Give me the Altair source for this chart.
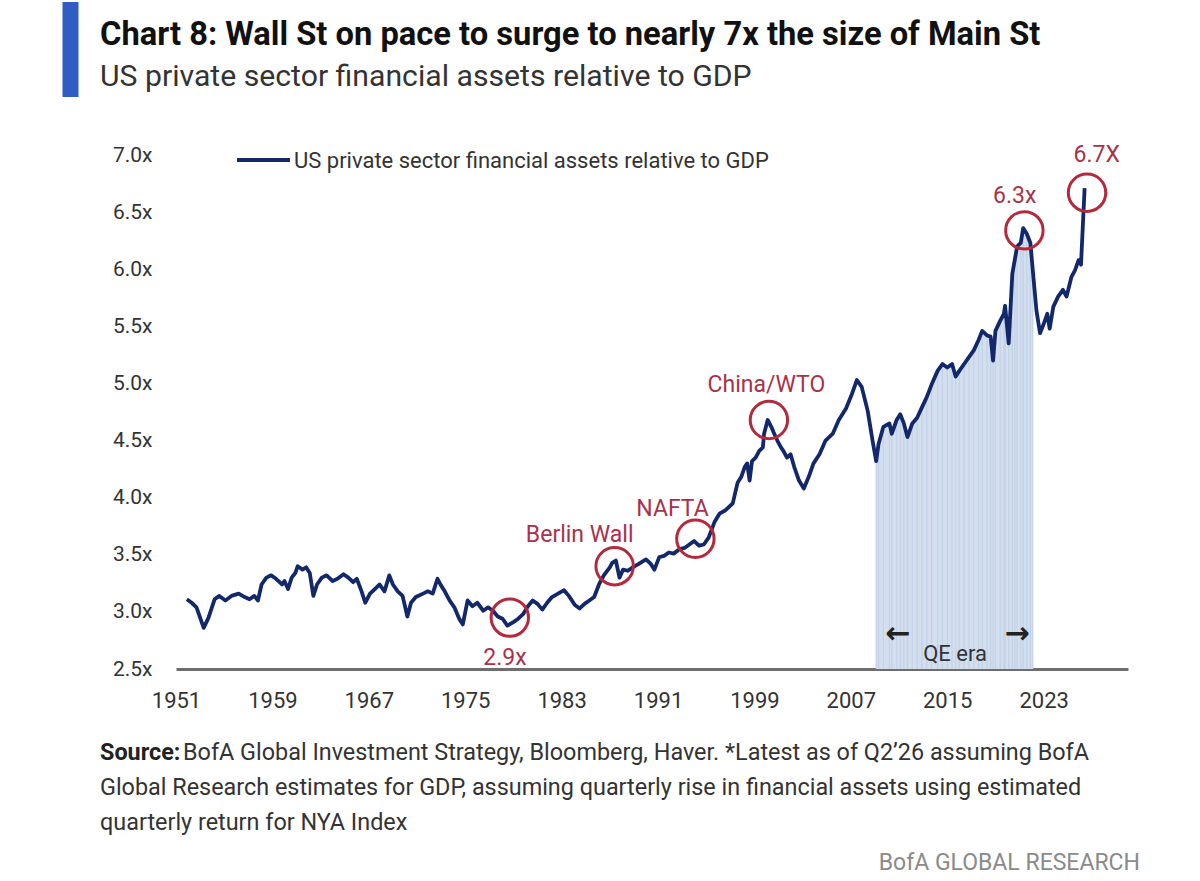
import altair as alt
import pandas as pd

# ---------------- data ----------------
years = [1951.9, 1952.3, 1952.7, 1953.3, 1953.7, 1954.2, 1954.6, 1955.1, 1955.6, 1956.2,
         1956.7, 1957.1, 1957.5, 1957.8, 1958.1, 1958.5, 1958.9, 1959.3, 1959.8, 1960.0,
         1960.3, 1960.6, 1960.9, 1961.1, 1961.5, 1961.8, 1962.1, 1962.4, 1962.7, 1963.1,
         1963.5, 1964.0, 1964.4, 1964.9, 1965.3, 1965.7, 1966.0, 1966.4, 1966.7, 1967.1,
         1967.5, 1967.9, 1968.3, 1968.7, 1969.0, 1969.4, 1969.8, 1970.2, 1970.5, 1970.9,
         1971.5, 1971.9, 1972.3, 1972.7, 1973.0, 1973.3, 1973.7, 1974.1, 1974.5, 1974.8,
         1975.2, 1975.6, 1976.0, 1976.5, 1976.9, 1977.3, 1977.7, 1978.1, 1978.5, 1979.0,
         1979.4, 1979.8, 1980.2, 1980.6, 1981.0, 1981.4, 1981.8, 1982.2, 1982.7, 1983.2,
         1983.6, 1984.1, 1984.5, 1984.9, 1985.3, 1985.7, 1986.1, 1986.5, 1987.0, 1987.2,
         1987.5, 1987.8, 1988.1, 1988.5, 1988.9, 1989.4, 1990.0, 1990.4, 1990.7, 1991.1,
         1991.5, 1991.9, 1992.3, 1992.8, 1993.2, 1993.6, 1994.0, 1994.4, 1994.8, 1995.2,
         1995.7, 1996.1, 1996.6, 1997.2, 1997.6, 1997.9, 1998.2, 1998.4, 1998.6, 1998.8,
         1999.1, 1999.4, 1999.7, 1999.8, 2000.1, 2000.4, 2000.6, 2000.9, 2001.2, 2001.4,
         2001.7, 2002.0, 2002.3, 2002.7, 2003.1, 2003.5, 2003.9, 2004.4, 2004.9, 2005.5,
         2006.0, 2006.6, 2007.1, 2007.5, 2007.9, 2008.4, 2008.8, 2009.1, 2009.3, 2009.7,
         2010.2, 2010.4, 2010.8, 2011.1, 2011.4, 2011.7, 2012.1, 2012.5, 2012.9, 2013.3,
         2013.7, 2014.2, 2014.6, 2015.0, 2015.4, 2015.7, 2016.0, 2016.4, 2016.8, 2017.2,
         2017.6, 2017.9, 2018.3, 2018.6, 2018.8, 2019.0, 2019.4, 2019.7, 2019.8, 2020.1,
         2020.4, 2020.6, 2020.8, 2021.1, 2021.3, 2021.6, 2021.9, 2022.1, 2022.4, 2022.7,
         2023.0, 2023.3, 2023.5, 2023.8, 2024.2, 2024.6, 2024.9, 2025.3, 2025.6, 2025.9,
         2026.1, 2026.4]
ratio = [3.11, 3.08, 3.04, 2.86, 2.95, 3.11, 3.14, 3.10, 3.14, 3.16,
         3.13, 3.11, 3.14, 3.10, 3.24, 3.30, 3.32, 3.29, 3.24, 3.27,
         3.20, 3.30, 3.34, 3.40, 3.37, 3.39, 3.34, 3.14, 3.24, 3.30,
         3.32, 3.27, 3.29, 3.33, 3.30, 3.26, 3.29, 3.18, 3.08, 3.16,
         3.20, 3.24, 3.18, 3.32, 3.24, 3.18, 3.14, 2.96, 3.08, 3.13,
         3.16, 3.18, 3.16, 3.29, 3.23, 3.18, 3.10, 3.04, 2.94, 2.89,
         3.10, 3.05, 3.08, 3.01, 3.04, 3.01, 2.96, 2.94, 2.88, 2.91,
         2.94, 2.98, 3.05, 3.10, 3.07, 3.02, 3.08, 3.13, 3.16, 3.19,
         3.14, 3.06, 3.03, 3.07, 3.10, 3.13, 3.24, 3.32, 3.39, 3.43,
         3.45, 3.30, 3.37, 3.36, 3.39, 3.42, 3.46, 3.42, 3.37, 3.48,
         3.49, 3.52, 3.51, 3.55, 3.56, 3.59, 3.62, 3.58, 3.59, 3.65,
         3.79, 3.86, 3.89, 3.95, 4.13, 4.18, 4.27, 4.30, 4.15, 4.32,
         4.35, 4.41, 4.44, 4.56, 4.68, 4.62, 4.57, 4.50, 4.44, 4.41,
         4.35, 4.38, 4.27, 4.15, 4.08, 4.18, 4.30, 4.38, 4.50, 4.56,
         4.68, 4.78, 4.91, 5.03, 4.97, 4.76, 4.50, 4.32, 4.47, 4.62,
         4.65, 4.56, 4.68, 4.73, 4.65, 4.53, 4.65, 4.70, 4.79, 4.88,
         4.99, 5.11, 5.17, 5.14, 5.17, 5.06, 5.11, 5.17, 5.23, 5.29,
         5.38, 5.46, 5.42, 5.41, 5.20, 5.46, 5.55, 5.61, 5.68, 5.35,
         5.96, 6.08, 6.20, 6.23, 6.36, 6.31, 6.23, 5.99, 5.64, 5.44,
         5.52, 5.61, 5.48, 5.67, 5.76, 5.82, 5.76, 5.93, 5.99, 6.08,
         6.04, 6.71]

qe_start = 2009.1
qe_end = 2022.1

note_text = ["2.9x", "Berlin Wall", "NAFTA", "China/WTO", "6.3x", "6.7X"]
note_year = [1978.3, 1984.5, 1992.2, 2000.0, 2020.6, 2027.4]
note_value = [2.60, 3.67, 3.90, 4.99, 6.64, 7.00]

circle_year = [1978.7, 1987.4, 1994.1, 2000.2, 2021.4, 2026.6]
circle_value = [2.95, 3.40, 3.64, 4.68, 6.34, 6.67]

x_ticks = [1951, 1959, 1967, 1975, 1983, 1991, 1999, 2007, 2015, 2023]
y_ticks = [2.5, 3.0, 3.5, 4.0, 4.5, 5.0, 5.5, 6.0, 6.5, 7.0]

title_text = "Chart 8: Wall St on pace to surge to nearly 7x the size of Main St"
subtitle_text = "US private sector financial assets relative to GDP"
legend_text = "US private sector financial assets relative to GDP"
source_bold = "Source:"
source_lines = [
    "BofA Global Investment Strategy, Bloomberg, Haver. *Latest as of Q2\u201926 assuming BofA",
    "Global Research estimates for GDP, assuming quarterly rise in financial assets using estimated",
    "quarterly return for NYA Index",
]
footer_text = "BofA GLOBAL RESEARCH"
qe_text = "QE era"

# ---------------- layout ----------------
OX, OY = 176, 155          # plot origin in page pixels
W, H = 952, 514            # plot area
FONT = "Roboto"
NAVY = "#13276b"
RED = "#b32a3c"
RED_TXT = "#a8324a"

df = pd.DataFrame({"year": years, "ratio": ratio})
df_qe = df[(df.year >= qe_start) & (df.year <= qe_end)]
notes = pd.DataFrame({"t": note_text, "year": note_year, "ratio": note_value})
circles = pd.DataFrame({"year": circle_year, "ratio": circle_value})

xs = alt.Scale(domain=[1951, 2030], nice=False, zero=False)
ys = alt.Scale(domain=[2.5, 7.0], nice=False, zero=False)

x_axis = alt.Axis(values=x_ticks, format="d", grid=False, ticks=False,
                  domainColor="#6e6e6e", domainWidth=3, labelFont=FONT,
                  labelFontSize=22, labelColor="#333333", labelPadding=21,
                  labelFlush=False, title=None)
y_axis = alt.Axis(values=y_ticks, labelExpr="format(datum.value, '.1f') + 'x'",
                  domain=False, ticks=False, grid=False, labelFont=FONT,
                  labelFontSize=21, labelColor="#333333", labelPadding=24, title=None)

X = alt.X("year:Q", scale=xs, axis=x_axis, title=None)
Y = alt.Y("ratio:Q", scale=ys, axis=y_axis, title=None)

qe_area = alt.Chart(df_qe).mark_area(color="#d3deef", opacity=1).encode(
    x=X, y=Y, y2=alt.datum(2.5)
)
qe_stripes = alt.Chart(df_qe).mark_rule(color="#c2d0e6", strokeWidth=1.2, opacity=0.9).encode(
    x=X, y=Y, y2=alt.datum(2.5)
)

line = alt.Chart(df).mark_line(color=NAVY, strokeWidth=3.8, strokeJoin="round").encode(x=X, y=Y)

rings = alt.Chart(circles).mark_point(shape="circle", size=1400, filled=False, opacity=1,
                                      stroke=RED, strokeWidth=3).encode(x=X, y=Y)

note_marks = alt.Chart(notes).mark_text(font=FONT, fontSize=23, color=RED_TXT,
                                        baseline="middle", align="center").encode(
    x=X, y=Y, text="t:N")


def label(text, x, y, size, color="#222222", weight="normal", align="left",
          baseline="alphabetic", font=FONT):
    return alt.Chart(pd.DataFrame({"t": [text]})).mark_text(
        font=font, fontSize=size, fontWeight=weight, color=color, align=align,
        baseline=baseline).encode(x=alt.value(x - OX), y=alt.value(y - OY), text="t:N")


def seg(x1, x2, y1, y2, color, width):
    return alt.Chart(pd.DataFrame({"a": [0]})).mark_rule(color=color, strokeWidth=width).encode(
        x=alt.value(x1 - OX), x2=alt.value(x2 - OX), y=alt.value(y1 - OY), y2=alt.value(y2 - OY))


accent = seg(70.5, 70.5, 2, 97, "#2e5ec2", 16)
title = label(title_text, 100, 45, 32.7, color="#111111", weight="bold")
subtitle = label(subtitle_text, 100, 86, 30.2, color="#333333")
legend_line = seg(237, 290, 160, 160, NAVY, 4)
legend_lbl = label(legend_text, 294, 168, 22, color="#333333")

qe_lbl = label(qe_text, 955, 661, 22, color="#333333", align="center")
arrow_l = label("\u2190", 898, 634, 30, color="#222222", weight="bold", align="center",
                baseline="middle", font="DejaVu Sans")
arrow_r = label("\u2192", 1017, 634, 30, color="#222222", weight="bold", align="center",
                baseline="middle", font="DejaVu Sans")

src_bold = label(source_bold, 100, 760, 23.4, color="#222222", weight="bold")
src1 = label(source_lines[0], 183, 760, 23.4, color="#333333")
src2 = label(source_lines[1], 100, 795, 23.4, color="#333333")
src3 = label(source_lines[2], 100, 830, 23.4, color="#333333")
footer = label(footer_text, 1140, 870, 23, color="#8a8a8a", align="right")

chart = alt.layer(
    qe_area, qe_stripes, line, rings, note_marks,
    qe_lbl, arrow_l, arrow_r,
    accent, title, subtitle, legend_line, legend_lbl,
    src_bold, src1, src2, src3, footer,
).properties(
    width=W, height=H,
    autosize=alt.AutoSizeParams(type="none"),
    padding={"left": OX, "top": OY, "right": 1200 - OX - W, "bottom": 881 - OY - H},
    background="white",
).configure_view(stroke=None)

chart.save("out.html", embed_options={"renderer": "svg", "actions": False})
